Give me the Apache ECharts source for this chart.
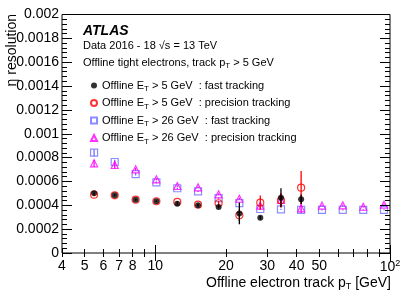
<!DOCTYPE html>
<html><head><meta charset="utf-8">
<script src="https://cdn.jsdelivr.net/npm/echarts@6/dist/echarts.min.js"></script>
<style>html,body{margin:0;padding:0;background:#fff}#wrap{position:relative;width:415px;height:298px}#c,#t{position:absolute;left:0;top:0;width:415px;height:298px}#t{pointer-events:none}</style>
</head><body><div id="wrap"><div id="c"></div><div id="t"></div></div>
<script>
// ---- data ----
const ptBins = [5.48, 6.71, 8.24, 10.1, 12.4, 15.2, 18.6, 22.8, 28.0, 34.3, 41.8, 51.3, 62.9, 76.9, 94.3];
const fast5 = [0.000501, 0.000484, 0.000447, 0.000434, 0.000413, 0.000400, 0.000386, 0.000331, 0.000296, 0.000464, 0.000450];
const fast5Err = [0.000008, 0.000006, 0.000006, 0.000006, 0.000008, 0.000010, 0.000012, 0.000090, 0.000015, 0.000080, 0.000040];
const prec5 = [0.000489, 0.000484, 0.000447, 0.000434, 0.000428, 0.000405, 0.000417, 0.000316, 0.000422, 0.000442, 0.000548];
const prec5Err = [0.000008, 0.000006, 0.000006, 0.000006, 0.000008, 0.000010, 0.000020, 0.000050, 0.000060, 0.000060, 0.000140];
const fast26 = [0.000841, 0.000763, 0.000662, 0.000593, 0.000543, 0.000517, 0.000461, 0.000419, 0.000369, 0.000366, 0.000361, 0.000362, 0.000362, 0.000362, 0.000362];
const fast26Err = [0.000030, 0.000020, 0.000012, 0.000008, 0.000006, 0.000006, 0.000006, 0.000006, 0.000006, 0.000005, 0.000005, 0.000005, 0.000005, 0.000005, 0.000005];
const prec26 = [0.000752, 0.000738, 0.000702, 0.000618, 0.000562, 0.000551, 0.000492, 0.000455, 0.000397, 0.000445, 0.000375, 0.000398, 0.000400, 0.000388, 0.000405];
const prec26Err = [0.000030, 0.000030, 0.000012, 0.000008, 0.000006, 0.000006, 0.000008, 0.000008, 0.000020, 0.000050, 0.000040, 0.000006, 0.000006, 0.000006, 0.000006];
const seriesNames = ['Offline E_T > 5 GeV  : fast tracking', 'Offline E_T > 5 GeV  : precision tracking', 'Offline E_T > 26 GeV  : fast tracking', 'Offline E_T > 26 GeV  : precision tracking'];
const xLabelValues = [4, 5, 6, 7, 8, 10, 20, 30, 40, 50, 100];
const xMinorTicks = [4, 5, 6, 7, 8, 9, 20, 30, 40, 50, 60, 70, 80, 90];
const xMajorTicks = [10, 100];
const yMin = 0, yMax = 0.002, yTickStep = 0.0002, yMinorDiv = 5;

const FONT = 'Liberation Sans';
const rich = {
  sub: {fontSize: 8, fontFamily: FONT, color: '#000', padding: [7, 0, 0, 0]},
  sup: {fontSize: 9, fontFamily: FONT, color: '#000', padding: [0, 0, 8, 0]}
};
const toRich = s => s.replace(/_T/g, '{sub|T}');
const GRID = {left: 62, right: 25, top: 14.5, bottom: 45};

function pts(vals) { return vals.map((v, i) => [ptBins[i], v]); }
function errs(vals, e) { return vals.map((v, i) => [ptBins[i], v - e[i], v + e[i]]); }
function errSeries(vals, e, color, z) {
  return {
    type: 'custom', z: z, silent: true,
    data: errs(vals, e),
    encode: {x: 0, y: [1, 2]},
    renderItem: function (params, api) {
      const a = api.coord([api.value(0), api.value(1)]);
      const b = api.coord([api.value(0), api.value(2)]);
      return {type: 'line', shape: {x1: a[0], y1: a[1], x2: b[0], y2: b[1]}, style: {stroke: color, lineWidth: 1.3}};
    }
  };
}

const texts = [
  {type: 'text', left: 83, top: 24, style: {text: 'ATLAS', fontSize: 14, fontWeight: 'bold', fontStyle: 'italic', fontFamily: FONT, fill: '#000'}},
  {type: 'text', left: 83, top: 40, style: {text: 'Data 2016 - 18 \u221As = 13 TeV', fontSize: 11, fontFamily: FONT, fill: '#000'}},
  {type: 'text', left: 83, top: 57, style: {text: toRich('Offline tight electrons, track p_T > 5 GeV'), fontSize: 11, fontFamily: FONT, fill: '#000', rich: rich}},
  {type: 'text', x: 12, y: 14, rotation: Math.PI / 2,
    style: {text: '\u03b7 resolution', fontSize: 14, fontFamily: FONT, fill: '#000', align: 'right', verticalAlign: 'middle'}},
  {type: 'text', right: 24, top: 276, style: {text: toRich('Offline electron track p_T [GeV]'), fontSize: 14, fontFamily: FONT, fill: '#000', rich: Object.assign({}, rich, {sub: {fontSize: 9, fontFamily: FONT, padding: [8, 0, 0, 0]}})}}
];

// ---- main chart: frame, labels, legend, points ----
const chart = echarts.init(document.getElementById('c'));
try {
  chart.setOption({
    animation: false,
    grid: Object.assign({show: true, borderColor: '#000', borderWidth: 1, backgroundColor: 'rgba(0,0,0,0)'}, GRID),
    xAxis: {
      type: 'log', logBase: 10, min: 4, max: 100,
      axisLine: {show: false}, splitLine: {show: false}, axisTick: {show: false},
      axisLabel: {show: true, customValues: xLabelValues, color: '#000', fontSize: 14, fontFamily: FONT, margin: 6,
        formatter: v => (Math.abs(v - 100) < 1e-6 ? '10{sup|2}' : String(Math.round(v))), rich: rich}
    },
    yAxis: {
      type: 'value', min: yMin, max: yMax, interval: yTickStep,
      axisLine: {show: false}, splitLine: {show: false}, axisTick: {show: false},
      axisLabel: {show: true, color: '#000', fontSize: 14, fontFamily: FONT, margin: 3,
        formatter: v => String(Number(Number(v).toFixed(5)))}
    },
    legend: {
      data: seriesNames.map(n => ({name: n})),
      orient: 'vertical', left: 85, top: 73,
      itemWidth: 6, itemHeight: 6, itemGap: 2.5, itemTextGap: 5,
      selectedMode: false,
      formatter: n => toRich(n),
      textStyle: {fontSize: 11, fontFamily: FONT, color: '#000', lineHeight: 15, rich: rich}
    },
    series: [
      errSeries(fast26, fast26Err, '#6f6fff', 2),
      {type: 'scatter', name: seriesNames[2], z: 2, data: pts(fast26), symbol: 'rect', symbolSize: 7,
        itemStyle: {color: 'rgba(0,0,0,0)', borderColor: '#6f6fff', borderWidth: 1.2}},
      errSeries(prec26, prec26Err, '#ff00ff', 3),
      {type: 'scatter', name: seriesNames[3], z: 3, data: pts(prec26), symbol: 'triangle', symbolSize: 7,
        itemStyle: {color: 'rgba(0,0,0,0)', borderColor: '#ff00ff', borderWidth: 1.2}},
      errSeries(prec5, prec5Err, '#ff0000', 4),
      {type: 'scatter', name: seriesNames[1], z: 4, data: pts(prec5), symbol: 'circle', symbolSize: 7,
        itemStyle: {color: 'rgba(0,0,0,0)', borderColor: '#ff0000', borderWidth: 1.2}},
      errSeries(fast5, fast5Err, '#000000', 5),
      {type: 'scatter', name: seriesNames[0], z: 5, data: pts(fast5), symbol: 'circle', symbolSize: 6,
        itemStyle: {color: '#000'}}
    ],
    graphic: texts
  });
} catch (e) { }

// ---- overlay chart: tick marks on all four sides (same grid, axis ticks only) ----
const tickLS = {color: '#000'};
function tx(grid, pos, vals, len) {
  return {type: 'log', logBase: 10, min: 4, max: 100, gridIndex: grid, position: pos,
    axisLine: {show: false}, splitLine: {show: false}, axisLabel: {show: false},
    axisTick: {show: true, inside: true, length: len, customValues: vals, lineStyle: tickLS}};
}
function ty(grid, pos, withTicks) {
  return {type: 'value', min: yMin, max: yMax, interval: yTickStep, gridIndex: grid, position: pos,
    axisLine: {show: false}, splitLine: {show: false}, axisLabel: {show: false},
    axisTick: {show: withTicks, inside: true, length: 10, lineStyle: tickLS},
    minorTick: {show: withTicks, splitNumber: yMinorDiv, length: 5, lineStyle: tickLS}};
}
try {
  const tc = echarts.init(document.getElementById('t'));
  tc.setOption({
    animation: false,
    backgroundColor: 'transparent',
    grid: [0, 1, 2, 3].map(() => Object.assign({}, GRID)),
    xAxis: [tx(0, 'bottom', xMinorTicks, 4), tx(1, 'top', xMinorTicks, 4), tx(2, 'bottom', xMajorTicks, 8), tx(3, 'top', xMajorTicks, 8)],
    yAxis: [ty(0, 'left', true), ty(1, 'right', true), ty(2, 'left', false), ty(3, 'right', false)],
    series: [0, 1, 2, 3].map(i => ({type: 'scatter', xAxisIndex: i, yAxisIndex: i, data: [], silent: true}))
  });
} catch (e) { }
</script>
</body></html>
